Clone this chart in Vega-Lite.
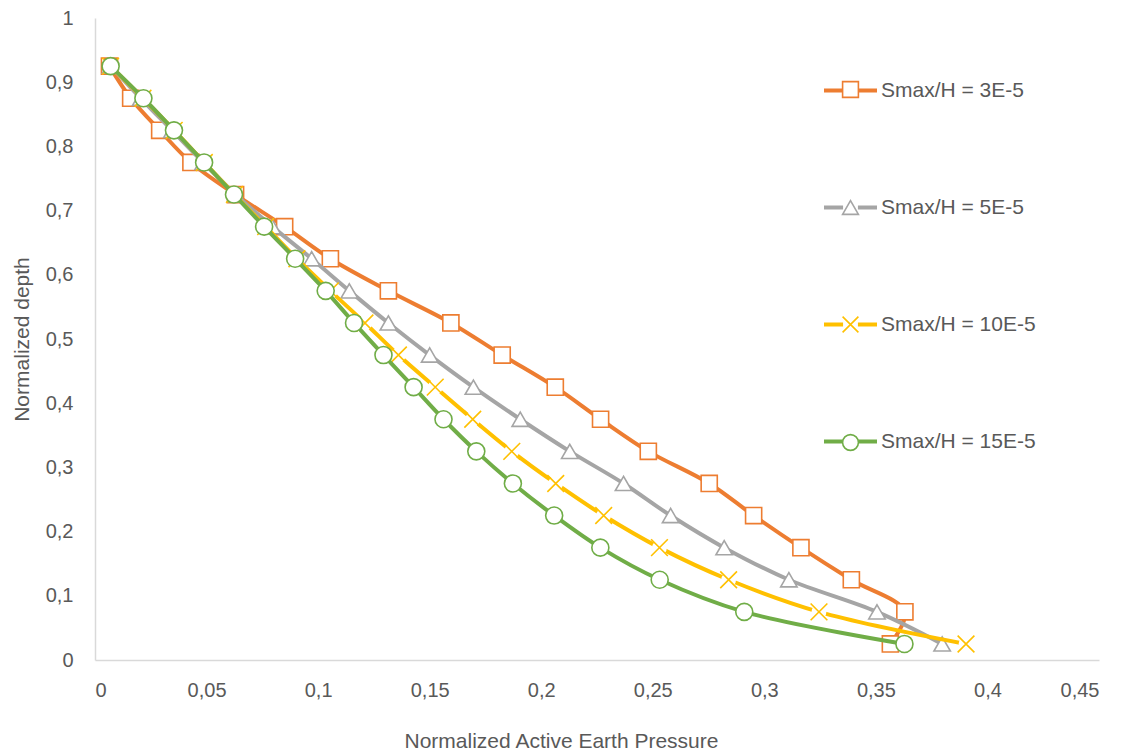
{
  "$schema": "https://vega.github.io/schema/vega-lite/v6.json",
  "autosize": {"type": "none"},
  "padding": {"left": 95, "top": 18, "right": 27, "bottom": 93},
  "width": 1004,
  "height": 642,
  "config": {
    "locale": {"number": {"decimal": ",", "thousands": ".", "grouping": [3], "currency": ["", ""]}},
    "view": {"stroke": null},
    "font": "Liberation Sans",
    "axis": {
      "grid": false,
      "ticks": false,
      "domainColor": "#D9D9D9",
      "domainWidth": 1.5,
      "labelColor": "#595959",
      "labelFont": "Liberation Sans",
      "labelFontSize": 20,
      "titleColor": "#595959",
      "titleFont": "Liberation Sans",
      "titleFontSize": 21,
      "titleFontWeight": "normal"
    },
    "legend": {"padding": 0}
  },
  "datasets": {
    "curves": [
      {"series": "Smax/H = 3E-5", "p": 0.0065, "d": 0.925},
      {"series": "Smax/H = 3E-5", "p": 0.016, "d": 0.875},
      {"series": "Smax/H = 3E-5", "p": 0.029, "d": 0.825},
      {"series": "Smax/H = 3E-5", "p": 0.043, "d": 0.775},
      {"series": "Smax/H = 3E-5", "p": 0.063, "d": 0.725},
      {"series": "Smax/H = 3E-5", "p": 0.085, "d": 0.675},
      {"series": "Smax/H = 3E-5", "p": 0.1055, "d": 0.625},
      {"series": "Smax/H = 3E-5", "p": 0.1315, "d": 0.575},
      {"series": "Smax/H = 3E-5", "p": 0.1595, "d": 0.525},
      {"series": "Smax/H = 3E-5", "p": 0.1825, "d": 0.475},
      {"series": "Smax/H = 3E-5", "p": 0.2063, "d": 0.425},
      {"series": "Smax/H = 3E-5", "p": 0.2266, "d": 0.375},
      {"series": "Smax/H = 3E-5", "p": 0.248, "d": 0.325},
      {"series": "Smax/H = 3E-5", "p": 0.2753, "d": 0.275},
      {"series": "Smax/H = 3E-5", "p": 0.2952, "d": 0.225},
      {"series": "Smax/H = 3E-5", "p": 0.3164, "d": 0.175},
      {"series": "Smax/H = 3E-5", "p": 0.339, "d": 0.125},
      {"series": "Smax/H = 3E-5", "p": 0.363, "d": 0.075},
      {"series": "Smax/H = 3E-5", "p": 0.3565, "d": 0.025},

      {"series": "Smax/H = 5E-5", "p": 0.007, "d": 0.925},
      {"series": "Smax/H = 5E-5", "p": 0.0205, "d": 0.875},
      {"series": "Smax/H = 5E-5", "p": 0.0345, "d": 0.825},
      {"series": "Smax/H = 5E-5", "p": 0.0485, "d": 0.775},
      {"series": "Smax/H = 5E-5", "p": 0.063, "d": 0.725},
      {"series": "Smax/H = 5E-5", "p": 0.0795, "d": 0.675},
      {"series": "Smax/H = 5E-5", "p": 0.0971, "d": 0.625},
      {"series": "Smax/H = 5E-5", "p": 0.114, "d": 0.575},
      {"series": "Smax/H = 5E-5", "p": 0.1315, "d": 0.525},
      {"series": "Smax/H = 5E-5", "p": 0.15, "d": 0.475},
      {"series": "Smax/H = 5E-5", "p": 0.1696, "d": 0.425},
      {"series": "Smax/H = 5E-5", "p": 0.1906, "d": 0.375},
      {"series": "Smax/H = 5E-5", "p": 0.2128, "d": 0.325},
      {"series": "Smax/H = 5E-5", "p": 0.2369, "d": 0.275},
      {"series": "Smax/H = 5E-5", "p": 0.258, "d": 0.225},
      {"series": "Smax/H = 5E-5", "p": 0.282, "d": 0.175},
      {"series": "Smax/H = 5E-5", "p": 0.311, "d": 0.125},
      {"series": "Smax/H = 5E-5", "p": 0.3505, "d": 0.075},
      {"series": "Smax/H = 5E-5", "p": 0.3797, "d": 0.025},

      {"series": "Smax/H = 10E-5", "p": 0.007, "d": 0.925},
      {"series": "Smax/H = 10E-5", "p": 0.0215, "d": 0.875},
      {"series": "Smax/H = 10E-5", "p": 0.0355, "d": 0.825},
      {"series": "Smax/H = 10E-5", "p": 0.049, "d": 0.775},
      {"series": "Smax/H = 10E-5", "p": 0.0625, "d": 0.725},
      {"series": "Smax/H = 10E-5", "p": 0.0765, "d": 0.675},
      {"series": "Smax/H = 10E-5", "p": 0.0905, "d": 0.625},
      {"series": "Smax/H = 10E-5", "p": 0.1055, "d": 0.575},
      {"series": "Smax/H = 10E-5", "p": 0.121, "d": 0.525},
      {"series": "Smax/H = 10E-5", "p": 0.136, "d": 0.475},
      {"series": "Smax/H = 10E-5", "p": 0.1525, "d": 0.425},
      {"series": "Smax/H = 10E-5", "p": 0.1693, "d": 0.375},
      {"series": "Smax/H = 10E-5", "p": 0.1868, "d": 0.325},
      {"series": "Smax/H = 10E-5", "p": 0.2065, "d": 0.275},
      {"series": "Smax/H = 10E-5", "p": 0.228, "d": 0.225},
      {"series": "Smax/H = 10E-5", "p": 0.253, "d": 0.175},
      {"series": "Smax/H = 10E-5", "p": 0.284, "d": 0.125},
      {"series": "Smax/H = 10E-5", "p": 0.3245, "d": 0.075},
      {"series": "Smax/H = 10E-5", "p": 0.3904, "d": 0.025},

      {"series": "Smax/H = 15E-5", "p": 0.007, "d": 0.925},
      {"series": "Smax/H = 15E-5", "p": 0.0217, "d": 0.875},
      {"series": "Smax/H = 15E-5", "p": 0.0354, "d": 0.825},
      {"series": "Smax/H = 15E-5", "p": 0.0489, "d": 0.775},
      {"series": "Smax/H = 15E-5", "p": 0.0623, "d": 0.725},
      {"series": "Smax/H = 15E-5", "p": 0.0758, "d": 0.675},
      {"series": "Smax/H = 15E-5", "p": 0.0897, "d": 0.625},
      {"series": "Smax/H = 15E-5", "p": 0.1034, "d": 0.575},
      {"series": "Smax/H = 15E-5", "p": 0.1161, "d": 0.525},
      {"series": "Smax/H = 15E-5", "p": 0.1293, "d": 0.475},
      {"series": "Smax/H = 15E-5", "p": 0.1428, "d": 0.425},
      {"series": "Smax/H = 15E-5", "p": 0.1562, "d": 0.375},
      {"series": "Smax/H = 15E-5", "p": 0.1709, "d": 0.325},
      {"series": "Smax/H = 15E-5", "p": 0.1873, "d": 0.275},
      {"series": "Smax/H = 15E-5", "p": 0.2058, "d": 0.225},
      {"series": "Smax/H = 15E-5", "p": 0.2265, "d": 0.175},
      {"series": "Smax/H = 15E-5", "p": 0.2531, "d": 0.125},
      {"series": "Smax/H = 15E-5", "p": 0.291, "d": 0.075},
      {"series": "Smax/H = 15E-5", "p": 0.3628, "d": 0.025}
    ]
  },
  "data": {"name": "curves"},
  "encoding": {
    "x": {
      "field": "p",
      "type": "quantitative",
      "scale": {"domain": [0, 0.45], "nice": false, "zero": true},
      "axis": {
        "values": [0, 0.05, 0.1, 0.15, 0.2, 0.25, 0.3, 0.35, 0.4, 0.45],
        "format": ".2~f",
        "labelPadding": 20,
        "title": "Normalized Active Earth Pressure",
        "titlePadding": 30,
        "titleX": 466,
        "titleAlign": "center"
      }
    },
    "y": {
      "field": "d",
      "type": "quantitative",
      "scale": {"domain": [0, 1], "nice": false},
      "axis": {
        "values": [0, 0.1, 0.2, 0.3, 0.4, 0.5, 0.6, 0.7, 0.8, 0.9, 1],
        "format": ".1~f",
        "labelPadding": 22,
        "title": "Normalized depth",
        "titleX": -73,
        "titleY": 321,
        "titleAngle": -90,
        "titleAlign": "center",
        "titleBaseline": "middle"
      }
    },
    "order": {"field": "d", "sort": "descending"}
  },
  "layer": [
    {
      "transform": [{"filter": {"field": "series", "equal": "Smax/H = 3E-5"}}],
      "mark": {"type": "line", "interpolate": "catmull-rom", "strokeWidth": 4, "strokeCap": "round", "strokeJoin": "round"},
      "encoding": {
        "color": {
          "field": "series",
          "type": "nominal",
          "sort": ["Smax/H = 3E-5", "Smax/H = 5E-5", "Smax/H = 10E-5", "Smax/H = 15E-5"],
          "scale": {"range": ["#ED7D31", "#A5A5A5", "#FFC000", "#70AD47"]},
          "legend": {
            "orient": "none",
            "legendX": 727,
            "legendY": 44,
            "title": null,
            "symbolType": "M-1,0H-0.28M0.28,0H1",
            "symbolSize": 2809,
            "symbolStrokeWidth": 4,
            "labelFont": "Liberation Sans",
            "labelFontSize": 21,
            "labelColor": "#595959",
            "labelOffset": 2,
            "rowPadding": 78
          }
        }
      }
    },
    {
      "transform": [{"filter": {"field": "series", "equal": "Smax/H = 3E-5"}}],
      "mark": {"type": "point", "filled": false, "fill": "white", "strokeWidth": 1.6, "size": 260, "opacity": 1},
      "encoding": {
        "shape": {
          "field": "series",
          "type": "nominal",
          "scale": {
            "domain": ["Smax/H = 3E-5", "Smax/H = 5E-5", "Smax/H = 10E-5", "Smax/H = 15E-5"],
            "range": ["square", "triangle-up", "M-1,-1L1,1M1,-1L-1,1", "circle"]
          },
          "legend": {
            "orient": "none",
            "legendX": 745,
            "legendY": 61,
            "title": null,
            "symbolSize": 250,
            "symbolStrokeWidth": 1.6,
            "symbolFillColor": "white",
            "labelFont": "Liberation Sans",
            "labelFontSize": 21,
            "labelExpr": "''",
            "rowPadding": 95
          }
        },
        "stroke": {
          "field": "series",
          "type": "nominal",
          "scale": {
            "domain": ["Smax/H = 3E-5", "Smax/H = 5E-5", "Smax/H = 10E-5", "Smax/H = 15E-5"],
            "range": ["#ED7D31", "#A5A5A5", "#FFC000", "#70AD47"]
          },
          "legend": {
            "orient": "none",
            "legendX": 745,
            "legendY": 61,
            "title": null,
            "symbolSize": 250,
            "symbolStrokeWidth": 1.6,
            "symbolFillColor": "white",
            "labelFont": "Liberation Sans",
            "labelFontSize": 21,
            "labelExpr": "''",
            "rowPadding": 95
          }
        }
      }
    },
    {
      "transform": [{"filter": {"field": "series", "equal": "Smax/H = 5E-5"}}],
      "mark": {"type": "line", "interpolate": "catmull-rom", "strokeWidth": 4, "strokeCap": "round", "strokeJoin": "round"},
      "encoding": {"color": {"field": "series", "type": "nominal", "sort": ["Smax/H = 3E-5", "Smax/H = 5E-5", "Smax/H = 10E-5", "Smax/H = 15E-5"]}}
    },
    {
      "transform": [{"filter": {"field": "series", "equal": "Smax/H = 5E-5"}}],
      "mark": {"type": "point", "filled": false, "fill": "white", "strokeWidth": 1.6, "size": 270, "opacity": 1},
      "encoding": {
        "shape": {"field": "series", "type": "nominal"},
        "stroke": {"field": "series", "type": "nominal"}
      }
    },
    {
      "transform": [{"filter": {"field": "series", "equal": "Smax/H = 10E-5"}}],
      "mark": {"type": "line", "interpolate": "catmull-rom", "strokeWidth": 4, "strokeCap": "round", "strokeJoin": "round"},
      "encoding": {"color": {"field": "series", "type": "nominal", "sort": ["Smax/H = 3E-5", "Smax/H = 5E-5", "Smax/H = 10E-5", "Smax/H = 15E-5"]}}
    },
    {
      "transform": [{"filter": {"field": "series", "equal": "Smax/H = 10E-5"}}],
      "mark": {"type": "point", "shape": "circle", "filled": true, "color": "white", "size": 220, "opacity": 1}
    },
    {
      "transform": [{"filter": {"field": "series", "equal": "Smax/H = 10E-5"}}],
      "mark": {"type": "point", "filled": false, "fill": "white", "strokeWidth": 1.6, "size": 280, "opacity": 1},
      "encoding": {
        "shape": {"field": "series", "type": "nominal"},
        "stroke": {"field": "series", "type": "nominal"}
      }
    },
    {
      "transform": [{"filter": {"field": "series", "equal": "Smax/H = 15E-5"}}],
      "mark": {"type": "line", "interpolate": "catmull-rom", "strokeWidth": 4, "strokeCap": "round", "strokeJoin": "round"},
      "encoding": {"color": {"field": "series", "type": "nominal", "sort": ["Smax/H = 3E-5", "Smax/H = 5E-5", "Smax/H = 10E-5", "Smax/H = 15E-5"]}}
    },
    {
      "transform": [{"filter": {"field": "series", "equal": "Smax/H = 15E-5"}}],
      "mark": {"type": "point", "filled": false, "fill": "white", "strokeWidth": 1.6, "size": 290, "opacity": 1},
      "encoding": {
        "shape": {"field": "series", "type": "nominal"},
        "stroke": {"field": "series", "type": "nominal"}
      }
    }
  ]
}
